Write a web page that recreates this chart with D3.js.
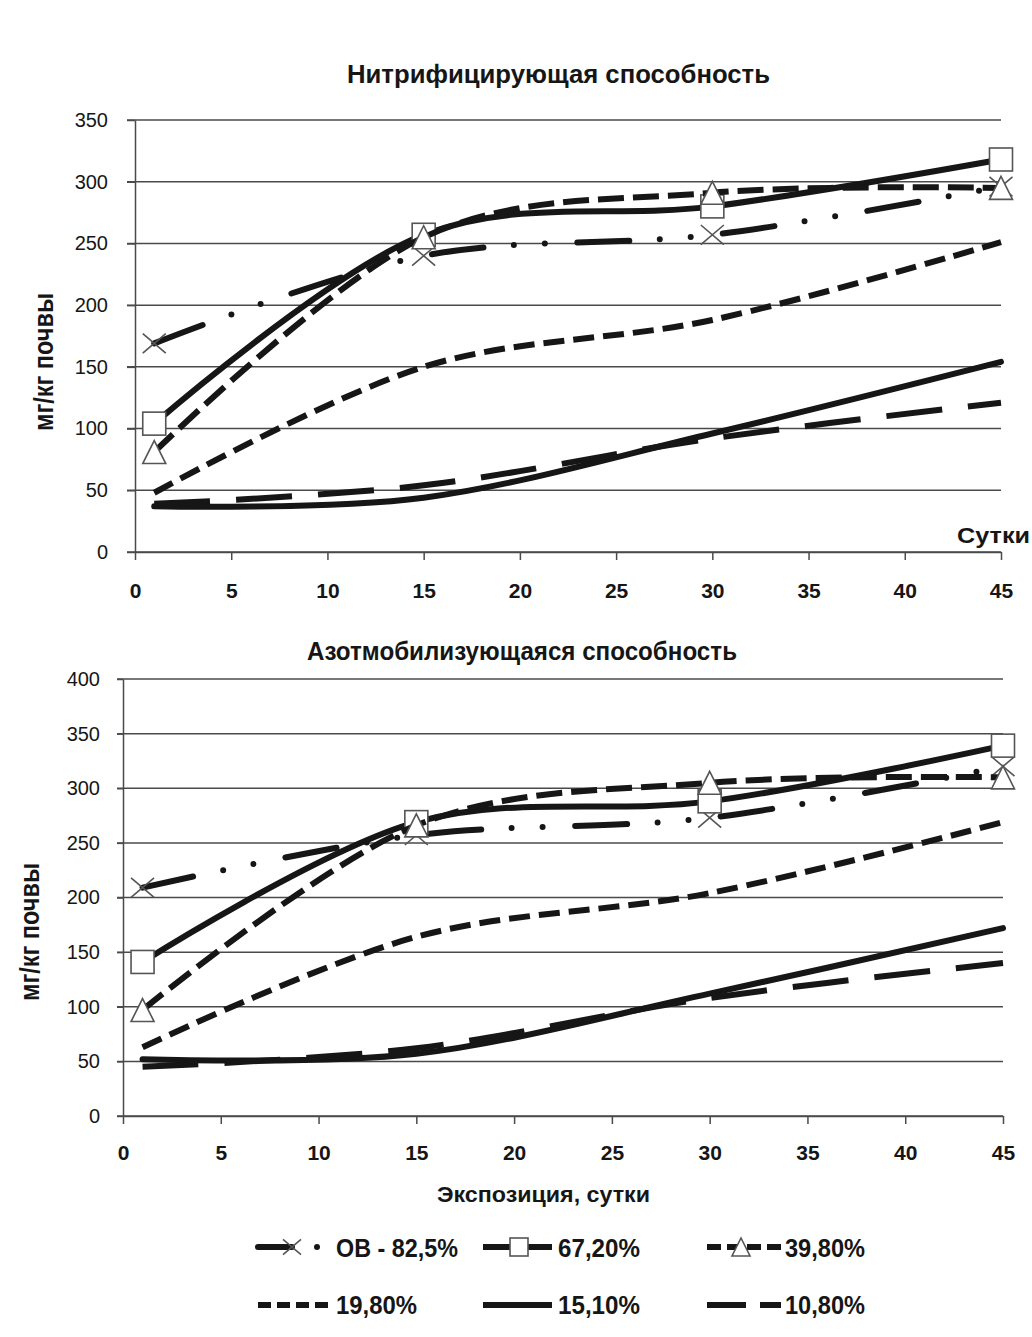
<!DOCTYPE html>
<html><head><meta charset="utf-8">
<script src="https://cdn.jsdelivr.net/npm/d3@7"></script>
<style>body{margin:0;background:#fff}svg{display:block}</style>
</head><body><svg id="c" width="1032" height="1337"></svg>
<script>
// ---------- data ----------
const days = [1, 15, 30, 45];
const seriesNames = ["ОВ - 82,5%", "67,20%", "39,80%", "19,80%", "15,10%", "10,80%"];
// Нитрифицирующая способность, мг/кг почвы
const nitrOB  = [169, 240, 257, 296];
const nitr672 = [104, 257, 280, 318];
const nitr398 = [81, 255, 291, 295];
const nitr198 = [48, 150, 188, 251];
const nitr151 = [37, 44, 96, 154];
const nitr108 = [39, 54, 92, 121];
// Азотмобилизующаяся способность, мг/кг почвы
const azotOB  = [209, 257, 273, 320];
const azot672 = [141, 269, 288, 339];
const azot398 = [97, 266, 305, 310];
const azot198 = [63, 164, 204, 269];
const azot151 = [52, 57, 112, 172];
const azot108 = [45, 62, 108, 140];
const xTicks = [0, 5, 10, 15, 20, 25, 30, 35, 40, 45];
const yTicksTop = [0, 50, 100, 150, 200, 250, 300, 350];
const yTicksBottom = [0, 50, 100, 150, 200, 250, 300, 350, 400];
const title1 = "Нитрифицирующая способность";
const title2 = "Азотмобилизующаяся способность";
const yLabel = "мг/кг почвы";
const xLabelTop = "Сутки";
const xLabelBottom = "Экспозиция, сутки";

// ---------- styles ----------
const styles = [
  {dash: "52,30.5,0,31,0,32.5", cap: "round", marker: "x"},
  {dash: null, cap: "round", marker: "square"},
  {dash: "26,9", cap: "butt", marker: "triangle"},
  {dash: "21,9", cap: "butt", marker: null},
  {dash: null, cap: "round", marker: null},
  {dash: "56,26", cap: "butt", marker: null}
];
const legendStyles = [
  {x0: 258, x1: 320, mx: 292, dash: "34,25,0,100", cap: "round", tx: 336, tw: 122},
  {x0: 483, x1: 552, mx: 519, dash: null, cap: "butt", tx: 558, tw: 82},
  {x0: 707, x1: 781, mx: 741, dash: "14,6", cap: "butt", tx: 785, tw: 80},
  {x0: 258, x1: 331, mx: null, dash: "13,6", cap: "butt", tx: 336, tw: 81},
  {x0: 483, x1: 552, mx: null, dash: null, cap: "butt", tx: 558, tw: 82},
  {x0: 707, x1: 781, mx: null, dash: "39,14,21", cap: "butt", tx: 785, tw: 80}
];
const FONT = "'Liberation Sans', Arial, sans-serif";
const INK = "#161616";
const GRID = "#4a4a4a";

const svg = d3.select("#c");
svg.append("rect").attr("width", 1032).attr("height", 1337).attr("fill", "#fff");

function drawMarker(g, type, x, y, s) {
  const h = s / 2;
  if (type === "square") {
    g.append("rect").attr("x", x - h).attr("y", y - h).attr("width", s).attr("height", s)
      .attr("fill", "#fff").attr("stroke", "#555").attr("stroke-width", 1.6);
  } else if (type === "triangle") {
    g.append("path").attr("d", `M${x},${y - h}L${x + h},${y + h}L${x - h},${y + h}Z`)
      .attr("fill", "#fff").attr("stroke", "#555").attr("stroke-width", 1.6);
  } else if (type === "x") {
    g.append("path").attr("d", `M${x - h},${y - h * 0.85}L${x + h},${y + h * 0.85}M${x - h},${y + h * 0.85}L${x + h},${y - h * 0.85}`)
      .attr("fill", "none").attr("stroke", "#555").attr("stroke-width", 1.6);
  }
}

function chart(cfg) {
  const x = d3.scaleLinear().domain([0, 45]).range([cfg.left, cfg.right]);
  const y = d3.scaleLinear().domain([0, cfg.ymax]).range([cfg.bottom, cfg.top]);
  const g = svg.append("g");

  // gridlines
  g.append("g").selectAll("line").data(cfg.yTicks).join("line")
    .attr("x1", cfg.left - cfg.tick).attr("x2", cfg.right)
    .attr("y1", d => y(d)).attr("y2", d => y(d))
    .attr("stroke", GRID).attr("stroke-width", 1.5);

  // y axis
  const ya = g.append("g").attr("transform", `translate(${cfg.left},0)`)
    .call(d3.axisLeft(y).tickValues(cfg.yTicks).tickSize(cfg.tick).tickPadding(cfg.ypad).tickSizeOuter(0));
  ya.select(".domain").attr("stroke", GRID).attr("stroke-width", 1.5);
  ya.selectAll(".tick line").attr("stroke", GRID).attr("stroke-width", 1.5);
  ya.selectAll("text").attr("font-family", FONT).attr("font-size", 20).attr("fill", INK);

  // x axis
  const xa = g.append("g").attr("transform", `translate(0,${cfg.bottom})`)
    .call(d3.axisBottom(x).tickValues(xTicks).tickSize(8).tickPadding(cfg.xpad).tickSizeOuter(0));
  xa.select(".domain").attr("stroke", GRID).attr("stroke-width", 1.5);
  xa.selectAll(".tick line").attr("stroke", GRID).attr("stroke-width", 1.5);
  xa.selectAll("text").attr("font-family", FONT).attr("font-size", 21).attr("font-weight", "bold").attr("fill", INK);

  // series
  const line = d3.line().x((d, i) => x(days[i])).y(d => y(d)).curve(d3.curveCardinal.tension(0));
  cfg.series.forEach((vals, k) => {
    const st = styles[k];
    g.append("path").attr("d", line(vals)).attr("fill", "none")
      .attr("stroke", INK).attr("stroke-width", 6)
      .attr("stroke-linecap", st.cap).attr("stroke-linejoin", "round")
      .attr("stroke-dasharray", st.dash);
    if (st.marker) vals.forEach((v, i) => drawMarker(g, st.marker, x(days[i]), y(v), 23));
  });

  // title
  g.append("text").attr("x", cfg.tx).attr("y", cfg.ty).text(cfg.title)
    .attr("font-family", FONT).attr("font-weight", "bold").attr("font-size", cfg.tfs).attr("fill", INK)
    .attr("textLength", cfg.tw).attr("lengthAdjust", "spacingAndGlyphs");
  // y label
  g.append("text").attr("transform", `translate(${cfg.ylx},${cfg.yly}) rotate(-90)`)
    .attr("text-anchor", "middle").text(yLabel)
    .attr("font-family", FONT).attr("font-weight", "bold").attr("font-size", 28).attr("fill", INK)
    .attr("textLength", 138).attr("lengthAdjust", "spacingAndGlyphs");
  // x label
  g.append("text").attr("x", cfg.xlx).attr("y", cfg.xly).text(cfg.xlabel)
    .attr("font-family", FONT).attr("font-weight", "bold").attr("font-size", 22).attr("fill", INK)
    .attr("textLength", cfg.xlw).attr("lengthAdjust", "spacingAndGlyphs");
}

chart({left: 135, right: 1001, top: 120, bottom: 552, ymax: 350, yTicks: yTicksTop, tick: 8, ypad: 19, xpad: 23,
  series: [nitrOB, nitr672, nitr398, nitr198, nitr151, nitr108],
  title: title1, tx: 347, ty: 83, tfs: 26, tw: 423,
  ylx: 53, yly: 362, xlabel: xLabelTop, xlx: 957, xly: 543, xlw: 73});

chart({left: 123, right: 1003, top: 679, bottom: 1116, ymax: 400, yTicks: yTicksBottom, tick: 6, ypad: 17, xpad: 21,
  series: [azotOB, azot672, azot398, azot198, azot151, azot108],
  title: title2, tx: 307, ty: 660, tfs: 25, tw: 430,
  ylx: 39, yly: 932, xlabel: xLabelBottom, xlx: 437, xly: 1202, xlw: 213});

// legend
const lg = svg.append("g");
seriesNames.forEach((name, k) => {
  const L = legendStyles[k];
  const row = k < 3 ? 0 : 1;
  const ly = row === 0 ? 1247 : 1305;
  const by = row === 0 ? 1257 : 1314;
  lg.append("line").attr("x1", L.x0).attr("x2", L.x1).attr("y1", ly).attr("y2", ly)
    .attr("stroke", INK).attr("stroke-width", 6).attr("stroke-linecap", L.cap)
    .attr("stroke-dasharray", L.dash);
  if (styles[k].marker) drawMarker(lg, styles[k].marker, L.mx, ly, 18);
  lg.append("text").attr("x", L.tx).attr("y", by).text(name)
    .attr("font-family", FONT).attr("font-weight", "bold").attr("font-size", 26).attr("fill", INK)
    .attr("textLength", L.tw).attr("lengthAdjust", "spacingAndGlyphs");
});
</script></body></html>
